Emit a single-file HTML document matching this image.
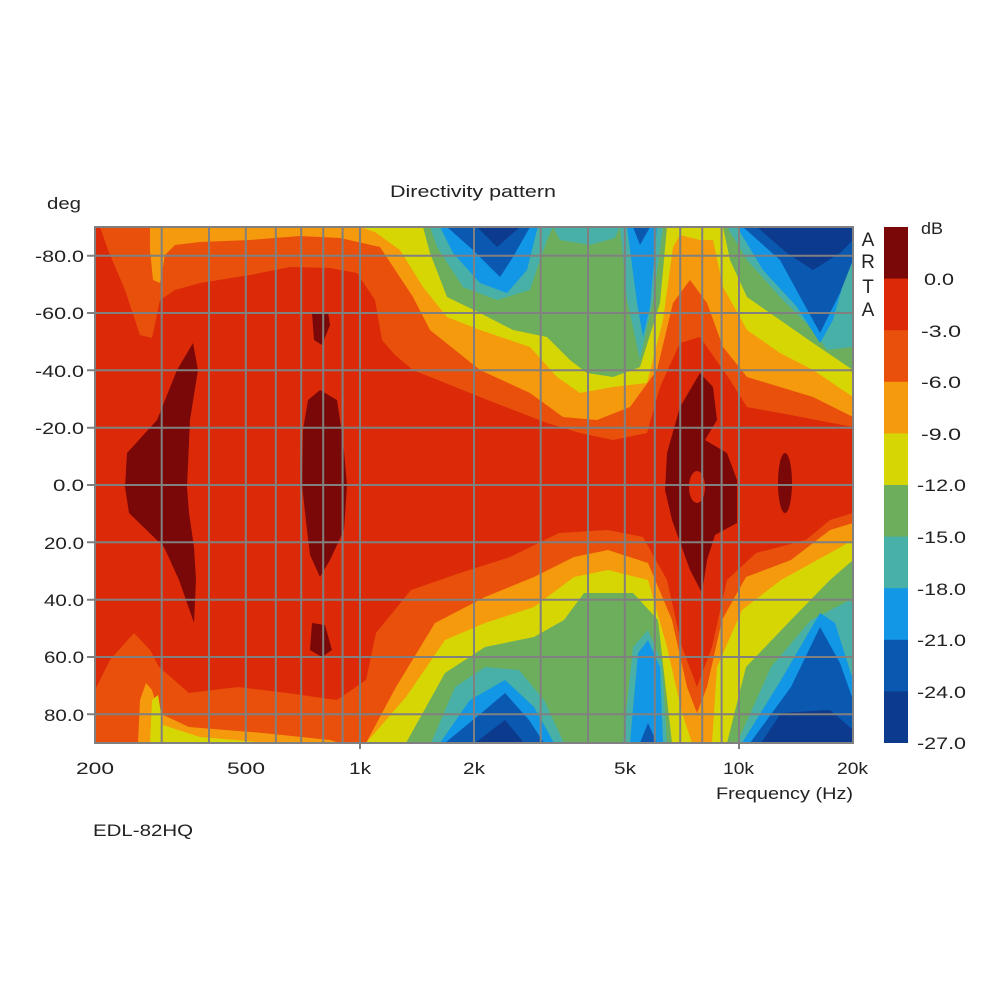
<!DOCTYPE html>
<html><head><meta charset="utf-8"><style>
body{margin:0;background:#fff}
svg text{font-family:"Liberation Sans",Arial,sans-serif;fill:#222}
</style></head><body>
<svg width="1000" height="1000" viewBox="0 0 1000 1000" xmlns="http://www.w3.org/2000/svg">
<defs><clipPath id="c"><rect x="95" y="227" width="758" height="516"/></clipPath></defs>
<g clip-path="url(#c)" stroke-linejoin="round">
<rect x="95" y="227" width="758" height="516" fill="#dc2a08"/>
<polygon fill="#e8500c" points="100,227 108,250 125,290 140,335 152,338 160,300 175,290 200,283 250,275 290,267 330,268 357,273 375,300 382,340 395,355 413,370 480,397 547,423 580,433 613,440 647,433 660,387 680,343 700,337 730,380 747,407 780,413 853,427 853,227"/>
<polygon fill="#e8500c" points="95,690 110,660 134,633 150,650 159,667 189,693 238,687 287,693 337,700 366,680 376,633 411,590 460,573 510,557 559,533 608,530 643,537 667,580 682,647 697,687 712,647 727,580 756,553 806,540 830,520 853,513 853,743 95,743"/>
<polygon fill="#f59a0c" points="150,227 150,250 153,280 160,283 165,255 175,245 200,242 250,240 300,236 340,238 380,247 413,297 430,330 480,370 530,393 563,417 597,420 630,407 657,370 673,303 690,280 707,303 723,347 747,377 813,397 853,417 853,227"/>
<polygon fill="#f59a0c" points="138,743 140,700 146,683 152,690 159,713 189,727 263,733 330,740 340,743 366,743 396,687 435,623 485,597 534,577 574,557 608,550 648,563 672,620 687,687 697,713 707,687 722,620 746,577 791,560 830,530 853,523 853,743"/>
<polygon fill="#d6d605" points="360,227 375,232 400,250 423,287 447,317 480,330 530,347 557,377 580,393 613,387 647,383 663,320 673,247 680,235 700,240 713,240 723,287 747,330 780,353 813,370 853,397 853,227"/>
<polygon fill="#d6d605" points="150,743 152,700 158,695 163,725 200,737 270,743"/>
<polygon fill="#d6d605" points="366,743 406,697 445,640 485,623 534,607 574,577 608,570 648,580 667,647 682,713 692,743"/>
<polygon fill="#d6d605" points="712,743 717,667 742,610 781,580 830,553 853,540 853,743"/>
<polygon fill="#6cae5c" points="423,227 430,253 447,297 480,313 513,330 547,337 570,360 587,373 613,377 640,367 660,303 667,227"/>
<polygon fill="#6cae5c" points="723,227 730,260 747,297 780,320 813,343 853,370 853,227"/>
<polygon fill="#6cae5c" points="406,743 445,673 485,647 534,637 564,620 584,593 633,593 658,620 672,743"/>
<polygon fill="#6cae5c" points="727,743 746,667 791,620 830,580 853,560 853,743"/>
<polygon fill="#48b0a6" points="430,227 437,247 463,287 497,300 530,290 540,260 547,240 553,227"/>
<polygon fill="#48b0a6" points="553,227 560,240 590,245 615,238 620,227"/>
<polygon fill="#48b0a6" points="620,227 627,300 640,360 653,300 663,227"/>
<polygon fill="#48b0a6" points="727,227 747,260 780,297 813,330 827,350 853,347 853,227"/>
<polygon fill="#48b0a6" points="431,743 455,687 485,667 519,670 544,700 564,743"/>
<polygon fill="#48b0a6" points="623,743 633,647 648,630 662,663 667,743"/>
<polygon fill="#48b0a6" points="737,743 771,667 811,620 850,600 853,605 853,743"/>
<polygon fill="#1296e6" points="440,227 453,253 480,283 507,293 527,270 537,230 538,227"/>
<polygon fill="#1296e6" points="627,227 637,303 643,337 650,307 657,227"/>
<polygon fill="#1296e6" points="737,227 763,270 797,307 820,343 833,320 847,270 853,253 853,227"/>
<polygon fill="#1296e6" points="440,743 470,700 505,680 534,707 554,743"/>
<polygon fill="#1296e6" points="630,743 638,653 648,640 660,667 663,743"/>
<polygon fill="#1296e6" points="742,743 781,680 820,613 835,623 853,680 853,743"/>
<polygon fill="#0a58b0" points="447,227 473,250 500,277 513,257 530,227"/>
<polygon fill="#0a58b0" points="633,227 640,245 650,227"/>
<polygon fill="#0a58b0" points="743,227 780,260 820,333 840,293 853,260 853,227"/>
<polygon fill="#0a58b0" points="445,743 485,710 505,693 529,720 544,743"/>
<polygon fill="#0a58b0" points="640,743 648,723 657,743"/>
<polygon fill="#0a58b0" points="750,743 791,687 820,627 840,663 853,700 853,743"/>
<polygon fill="#0c3a8c" points="477,227 497,247 520,227"/>
<polygon fill="#0c3a8c" points="757,227 787,253 813,270 840,253 853,240 853,227"/>
<polygon fill="#0c3a8c" points="475,743 505,720 524,743"/>
<polygon fill="#0c3a8c" points="761,743 781,713 830,710 853,730 853,743"/>
<g fill="#7a0808">
<polygon points="193,343 198,370 190,420 187,487 189,513 194,547 196,580 194,623 179,580 164,547 129,513 125,487 127,453 157,420 177,370"/>
<polygon points="320,390 337,400 343,440 347,485 344,530 330,560 320,577 310,555 307,530 302,485 303,430 308,400"/>
<polygon points="312,313 328,312 330,325 322,345 314,340"/>
<polygon points="312,623 325,625 332,650 322,657 310,650"/>
<polygon points="700,373 713,387 717,420 705,440 727,453 737,480 737,523 715,535 707,560 702,593 690,570 672,520 665,490 667,453 680,407"/>
<ellipse cx="785" cy="483" rx="7" ry="30"/>
</g>
<ellipse cx="697" cy="487" rx="8" ry="16" fill="#dc2a08"/>
</g>
<g stroke="#808080" stroke-width="2">
<line x1="161.7" y1="227" x2="161.7" y2="743"/><line x1="209" y1="227" x2="209" y2="743"/>
<line x1="245.8" y1="227" x2="245.8" y2="743"/><line x1="275.8" y1="227" x2="275.8" y2="743"/>
<line x1="301.2" y1="227" x2="301.2" y2="743"/><line x1="323.2" y1="227" x2="323.2" y2="743"/>
<line x1="342.6" y1="227" x2="342.6" y2="743"/><line x1="360" y1="227" x2="360" y2="749"/>
<line x1="474" y1="227" x2="474" y2="743"/><line x1="540.7" y1="227" x2="540.7" y2="743"/>
<line x1="588" y1="227" x2="588" y2="743"/><line x1="624.8" y1="227" x2="624.8" y2="743"/>
<line x1="654.8" y1="227" x2="654.8" y2="743"/><line x1="680.2" y1="227" x2="680.2" y2="743"/>
<line x1="702.2" y1="227" x2="702.2" y2="743"/><line x1="721.6" y1="227" x2="721.6" y2="743"/>
<line x1="739" y1="227" x2="739" y2="749"/>
<line x1="87" y1="255.7" x2="853" y2="255.7"/><line x1="87" y1="313" x2="853" y2="313"/>
<line x1="87" y1="370.3" x2="853" y2="370.3"/><line x1="87" y1="427.7" x2="853" y2="427.7"/>
<line x1="87" y1="485" x2="853" y2="485"/><line x1="87" y1="542.3" x2="853" y2="542.3"/>
<line x1="87" y1="599.7" x2="853" y2="599.7"/><line x1="87" y1="657" x2="853" y2="657"/>
<line x1="87" y1="714.3" x2="853" y2="714.3"/>
<rect x="95" y="227" width="758" height="516" fill="none"/>
</g>
<rect x="884" y="227" width="24" height="52" fill="#7a0808"/>
<rect x="884" y="278.6" width="24" height="52" fill="#dc2a08"/>
<rect x="884" y="330.2" width="24" height="52" fill="#e8500c"/>
<rect x="884" y="381.8" width="24" height="52" fill="#f59a0c"/>
<rect x="884" y="433.4" width="24" height="52" fill="#d6d605"/>
<rect x="884" y="485" width="24" height="52" fill="#6cae5c"/>
<rect x="884" y="536.6" width="24" height="52" fill="#48b0a6"/>
<rect x="884" y="588.2" width="24" height="52" fill="#1296e6"/>
<rect x="884" y="639.8" width="24" height="52" fill="#0a58b0"/>
<rect x="884" y="691.4" width="24" height="51.6" fill="#0c3a8c"/>
<g font-size="17" lengthAdjust="spacingAndGlyphs">
<text x="390" y="197" textLength="166" lengthAdjust="spacingAndGlyphs">Directivity pattern</text>
<text x="47" y="209" textLength="34" lengthAdjust="spacingAndGlyphs">deg</text>
<text x="35" y="262" textLength="49" lengthAdjust="spacingAndGlyphs">-80.0</text>
<text x="35" y="319" textLength="49" lengthAdjust="spacingAndGlyphs">-60.0</text>
<text x="35" y="377" textLength="49" lengthAdjust="spacingAndGlyphs">-40.0</text>
<text x="35" y="434" textLength="49" lengthAdjust="spacingAndGlyphs">-20.0</text>
<text x="53" y="491" textLength="31" lengthAdjust="spacingAndGlyphs">0.0</text>
<text x="44" y="549" textLength="40" lengthAdjust="spacingAndGlyphs">20.0</text>
<text x="44" y="606" textLength="40" lengthAdjust="spacingAndGlyphs">40.0</text>
<text x="44" y="663" textLength="40" lengthAdjust="spacingAndGlyphs">60.0</text>
<text x="44" y="721" textLength="40" lengthAdjust="spacingAndGlyphs">80.0</text>
<text x="76" y="774" textLength="38" lengthAdjust="spacingAndGlyphs">200</text>
<text x="227" y="774" textLength="38" lengthAdjust="spacingAndGlyphs">500</text>
<text x="349" y="774" textLength="22" lengthAdjust="spacingAndGlyphs">1k</text>
<text x="463" y="774" textLength="22" lengthAdjust="spacingAndGlyphs">2k</text>
<text x="614" y="774" textLength="22" lengthAdjust="spacingAndGlyphs">5k</text>
<text x="723" y="774" textLength="31" lengthAdjust="spacingAndGlyphs">10k</text>
<text x="837" y="774" textLength="31" lengthAdjust="spacingAndGlyphs">20k</text>
<text x="716" y="799" textLength="137" lengthAdjust="spacingAndGlyphs">Frequency (Hz)</text>
<text x="93" y="836" textLength="100" lengthAdjust="spacingAndGlyphs">EDL-82HQ</text>
<g font-size="19" text-anchor="middle">
<text x="868" y="246">A</text><text x="868" y="268">R</text><text x="868" y="293">T</text><text x="868" y="316">A</text>
</g>
<text x="921" y="234" textLength="22" lengthAdjust="spacingAndGlyphs">dB</text>
<text x="924" y="285" textLength="30" lengthAdjust="spacingAndGlyphs">0.0</text>
<text x="921" y="337" textLength="40" lengthAdjust="spacingAndGlyphs">-3.0</text>
<text x="921" y="388" textLength="40" lengthAdjust="spacingAndGlyphs">-6.0</text>
<text x="921" y="440" textLength="40" lengthAdjust="spacingAndGlyphs">-9.0</text>
<text x="917" y="491" textLength="49" lengthAdjust="spacingAndGlyphs">-12.0</text>
<text x="917" y="543" textLength="49" lengthAdjust="spacingAndGlyphs">-15.0</text>
<text x="917" y="595" textLength="49" lengthAdjust="spacingAndGlyphs">-18.0</text>
<text x="917" y="646" textLength="49" lengthAdjust="spacingAndGlyphs">-21.0</text>
<text x="917" y="698" textLength="49" lengthAdjust="spacingAndGlyphs">-24.0</text>
<text x="917" y="749" textLength="49" lengthAdjust="spacingAndGlyphs">-27.0</text>
</g>
</svg>
</body></html>
